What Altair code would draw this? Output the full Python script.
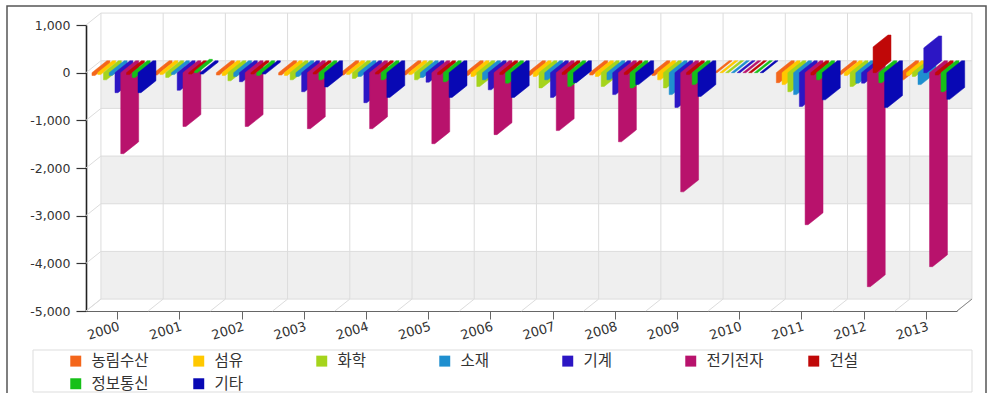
import altair as alt
import pandas as pd

# ---- data -------------------------------------------------------------
YEARS = ["2000", "2001", "2002", "2003", "2004", "2005", "2006",
         "2007", "2008", "2009", "2010", "2011", "2012", "2013"]

SERIES = ["농림수산", "섬유", "화학", "소재", "기계", "전기전자", "건설", "정보통신", "기타"]
COLORS = ["#f4661b", "#ffc800", "#a5d41c", "#1f8fcf", "#2c16c4",
          "#b8126c", "#c00808", "#16c018", "#0808b4"]

AGRI = [-60, -50, -50, -50, -50, -50, -60, -60, -50, -60, 0, -210, -40, -150]
TEXTILE = [-40, -40, -60, -60, -40, -40, -80, -80, -80, -150, 0, -250, -60, -60]
CHEMICAL = [-150, -100, -170, -150, -120, -150, -290, -320, -290, -320, 0, -400, -290, -80]
MATERIAL = [-60, -40, -80, -80, -80, -100, -150, -150, -150, -460, 0, -460, -220, -250]
MACHINERY = [-420, -370, -190, -400, -630, -200, -360, -520, -460, -730, 0, -710, -220, 520]
ELECTRONICS = [-1700, -1130, -1130, -1175, -1175, -1490, -1300, -1215, -1450, -2500, 0, -3190, -4490, -4070]
CONSTRUCTION = [-40, -30, -30, -30, -30, -40, -40, -40, -40, -40, 0, -50, 540, -50]
ICT = [-100, 30, -60, -150, -150, -190, -220, -290, -320, -250, 0, -150, -210, -400]
OTHER = [-420, -30, -30, -300, -520, -520, -520, -210, -250, -500, 0, -570, -730, -560]

VALUES = [AGRI, TEXTILE, CHEMICAL, MATERIAL, MACHINERY, ELECTRONICS, CONSTRUCTION, ICT, OTHER]

Y_TICKS = [1000, 0, -1000, -2000, -3000, -4000, -5000]

# ---- pseudo-3D geometry (axis units) -----------------------------------
N = len(YEARS)
Y_MAX, Y_MIN = Y_TICKS[0], Y_TICKS[-1]
DEPTH_X = 0.24      # back wall shift to the right, in category units
DEPTH_Y = 250       # back wall shift upwards, in value units
FIRST = 0.096       # left gap of the first column inside a year slot
STEP = 0.0925       # spacing of the columns inside a year slot
FACE = 0.048        # width of a column's front face

FONT = "Noto Sans CJK KR"
NUM_FONT = "DejaVu Sans"

xscale = alt.Scale(domain=[0, N], nice=False, zero=False)
yscale = alt.Scale(domain=[Y_MIN, Y_MAX], nice=False, zero=False)

year_lookup = "[" + ",".join("'%s'" % y for y in YEARS) + "]"

x_axis = alt.Axis(
    values=[i + 0.5 for i in range(N)],
    labelExpr=year_lookup + "[floor(datum.value)]",
    title=None, grid=False, domainColor="#666", domainWidth=1,
    tickColor="#666", tickSize=8, labelAngle=-17, labelAlign="right",
    labelBaseline="top", labelPadding=1, labelFont=NUM_FONT,
    labelFontSize=13, labelColor="#333",
)
y_axis = alt.Axis(
    values=Y_TICKS, title=None, grid=False,
    labelExpr="replace(format(datum.value, ','), '\u2212', '-')",
    domainColor="#222", domainWidth=1.6, tickColor="#333", tickWidth=1.2,
    tickSize=10, labelPadding=6, labelFont=NUM_FONT, labelFontSize=12.5,
    labelColor="#333",
)


def xenc(field):
    return alt.X(field + ":Q", scale=xscale, axis=x_axis)


def yenc(field):
    return alt.Y(field + ":Q", scale=yscale, axis=y_axis)


color_enc = alt.Color(
    "series:N",
    scale=alt.Scale(domain=SERIES, range=COLORS),
    sort=SERIES,
    legend=alt.Legend(
        title=None, orient="none", legendX=-18, legendY=328,
        direction="horizontal", columns=7, gridAlign="all",
        columnPadding=42, rowPadding=6, padding=0,
        symbolType="square", symbolSize=120, symbolStrokeWidth=0,
        labelFont=FONT, labelFontSize=15.5, labelColor="#333", labelOffset=8,
    ),
)

# ---- tables ------------------------------------------------------------
bar_rows = []
for j, (name, vals) in enumerate(zip(SERIES, VALUES)):
    for i, (yr, v) in enumerate(zip(YEARS, vals)):
        x = i + FIRST + j * STEP
        top, bot = max(v, 0), min(v, 0)
        outline = [
            (x, top, bot),
            (x + FACE, top + DEPTH_Y * FACE / DEPTH_X, bot),
            (x + DEPTH_X, top + DEPTH_Y, bot + DEPTH_Y * (DEPTH_X - FACE) / DEPTH_X),
            (x + FACE + DEPTH_X, top + DEPTH_Y, bot + DEPTH_Y),
        ]
        for px, hi, lo in outline:
            bar_rows.append({"series": name, "year": yr, "value": v,
                             "px": px, "hi": hi, "lo": lo})
bars = pd.DataFrame(bar_rows)

band_rows = []
for k in range(len(Y_TICKS) - 1):
    if k % 2 == 1:
        band_rows.append({"x0": DEPTH_X, "x1": N + DEPTH_X,
                          "y0": Y_TICKS[k + 1] + DEPTH_Y, "y1": Y_TICKS[k] + DEPTH_Y})
bands = pd.DataFrame(band_rows)

line_rows = []
for t in Y_TICKS:
    # back wall horizontal line and left wall diagonal
    line_rows.append({"xa": DEPTH_X, "ya": t + DEPTH_Y, "xb": N + DEPTH_X, "yb": t + DEPTH_Y})
    line_rows.append({"xa": 0, "ya": t, "xb": DEPTH_X, "yb": t + DEPTH_Y})
for k in range(N + 1):
    # back wall vertical line and floor diagonal
    line_rows.append({"xa": k + DEPTH_X, "ya": Y_MIN + DEPTH_Y, "xb": k + DEPTH_X, "yb": Y_MAX + DEPTH_Y})
    line_rows.append({"xa": k, "ya": Y_MIN, "xb": k + DEPTH_X, "yb": Y_MIN + DEPTH_Y})
frame_lines = pd.DataFrame(line_rows)

edge = pd.DataFrame([{"xa": N, "ya": Y_MIN, "xb": N + DEPTH_X, "yb": Y_MIN + DEPTH_Y}])
one = pd.DataFrame({"k": [0]})

# ---- layers ------------------------------------------------------------
wall = alt.Chart(bands).mark_rect(color="#efefef").encode(
    x=xenc("x0"), x2="x1", y=yenc("y0"), y2="y1")

grid = alt.Chart(frame_lines).mark_rule(color="#dcdcdc", strokeWidth=1).encode(
    x=xenc("xa"), x2="xb", y=yenc("ya"), y2="yb")

columns = []
for j, name in enumerate(SERIES):
    columns.append(
        alt.Chart(bars).transform_filter(alt.datum.series == name)
        .mark_area(stroke=COLORS[j], strokeWidth=0.5, opacity=1)
        .encode(x=xenc("px"), y=yenc("hi"), y2="lo", color=color_enc,
                detail="year:N")
    )

corner = alt.Chart(edge).mark_rule(color="#888", strokeWidth=1).encode(
    x=xenc("xa"), x2="xb", y=yenc("ya"), y2="yb")

outer_box = alt.Chart(one).mark_rect(fillOpacity=0, stroke="#555", strokeWidth=1.5).encode(
    x=alt.value(-79), x2=alt.value(900), y=alt.value(-19), y2=alt.value(376))

legend_box = alt.Chart(one).mark_rect(fillOpacity=0, stroke="#dddddd", strokeWidth=1).encode(
    x=alt.value(-53), x2=alt.value(886), y=alt.value(325), y2=alt.value(367))

chart = alt.layer(wall, grid, *columns, corner, legend_box, outer_box).properties(
    width=871, height=286,
    padding={"left": 86, "top": 25, "right": 45, "bottom": 82},
    autosize=alt.AutoSizeParams(type="none"),
    background="white",
).configure_view(stroke=None)

chart.save("out.html", embed_options={"renderer": "svg", "actions": False})
